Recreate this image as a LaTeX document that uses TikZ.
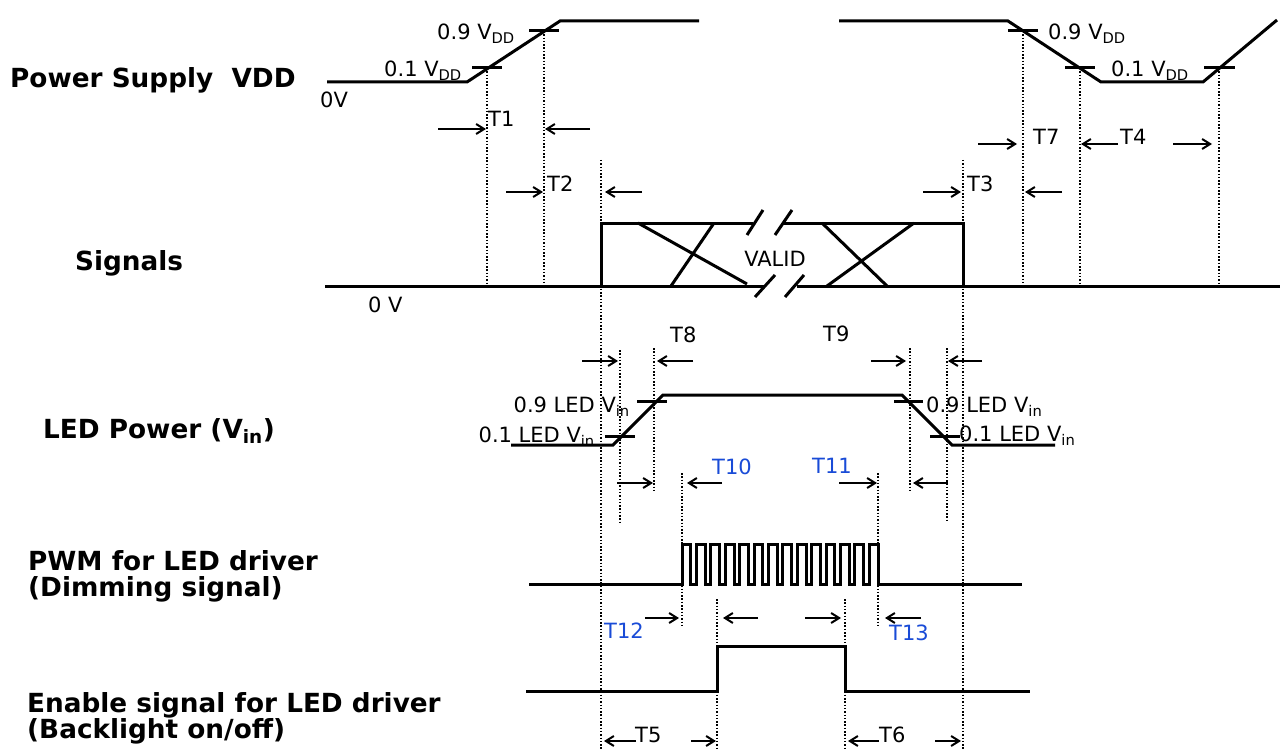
\documentclass[tikz,border=0pt]{standalone}
\usepackage{fontspec}
\setmainfont{DejaVu Sans}
\usetikzlibrary{arrows.meta}

\definecolor{tblue}{RGB}{25,75,215}

\begin{document}
\begin{tikzpicture}[x=1pt, y=-1pt,
    wave/.style={line width=3pt, line join=miter},
    tick/.style={line width=3pt},
    guide/.style={line width=1.5pt, dash pattern=on 1.5pt off 1.8pt},
    tarr/.style={line width=2pt, -{Straight Barb[length=8pt,width=10pt]}},
    sig/.style={font=\fontsize{26.3}{29}\selectfont\bfseries, anchor=base west, inner sep=0pt},
    val/.style={font=\fontsize{21}{24}\selectfont, inner sep=0pt},
    tlbl/.style={val, anchor=base west},
    blbl/.style={tlbl, text=tblue}]

    % --- Define Coordinates and Parameters ---
    \def\xVlo{487}   % VDD passes 0.1 VDD
    \def\xVhi{544}   % VDD passes 0.9 VDD
    \def\xSon{601}   % signals become valid
    \def\xSoff{963}  % signals end
    \def\xVfhi{1023} % VDD falls through 0.9 VDD
    \def\xVflo{1080} % VDD falls through 0.1 VDD
    \def\xVre{1219}  % VDD back on
    \def\xLlo{620}   % LED Vin passes 0.1
    \def\xLhi{654}   % LED Vin passes 0.9
    \def\xLfhi{910}  % LED Vin falls through 0.9
    \def\xLflo{947}  % LED Vin falls through 0.1
    \def\xPon{682}   % PWM starts
    \def\xPoff{878}  % PWM stops
    \def\xEon{717}   % enable on
    \def\xEoff{845}  % enable off
    \def\per{14.4}   % PWM period
    \def\hw{8.8}     % PWM high time
    % levels (measured from the top)
    \def\yVhi{21} \def\yVlo{82}
    \def\ySt{223} \def\ySb{286}
    \def\yLhi{395} \def\yLlo{445}
    \def\yPhi{544} \def\yPlo{584}
    \def\yEhi{646} \def\yElo{691}

    \fill[white] (0,0) rectangle (1280,749);
    \useasboundingbox (0,0) rectangle (1280,749);

    % --- Power Supply VDD ---
    \node[sig] (vdd) at (10,88) {Power Supply\ \ VDD};
    \draw[wave] (327,\yVlo) -- (467,\yVlo) -- (560,\yVhi) -- (699,\yVhi);
    \draw[wave] (839,\yVhi) -- (1008,\yVhi) -- (1101,\yVlo) -- (1203,\yVlo) -- (1277,20);
    % threshold ticks
    \draw[tick] (472,68) -- (502,68);
    \draw[tick] (529,31) -- (559,31);
    \draw[tick] (1008,31) -- (1038,31);
    \draw[tick] (1065,68) -- (1095,68);
    \draw[tick] (1204,68) -- (1235,68);
    \node[val, anchor=base east] (v9a) at (515,40) {0.9 V\textsubscript{DD}};
    \node[val, anchor=base east] (v1a) at (462,77) {0.1 V\textsubscript{DD}};
    \node[tlbl] (zv) at (320,108) {0V};
    \node[tlbl] (v9b) at (1048,40) {0.9 V\textsubscript{DD}};
    \node[tlbl] (v1b) at (1111,77) {0.1 V\textsubscript{DD}};

    % --- Dotted guide lines ---
    \foreach \x/\ya/\yb in {\xVlo/68/286, \xVhi/31/286, \xSon/160/749, \xSoff/160/749,
        \xVfhi/31/286, \xVflo/68/286, \xVre/68/286,
        \xLlo/350/523, \xLhi/348/490, \xLfhi/348/490, \xLflo/348/522,
        \xPon/473/627, \xPoff/473/627, \xEon/599/749, \xEoff/599/749}
        \draw[guide] (\x,\ya) -- (\x,\yb);

    % --- T1, T2, T3, T4, T7 ---
    \draw[tarr] (438,129) -- (\xVlo-1,129);
    \node[tlbl] (t1) at (488,127) {T1};
    \draw[tarr] (590,129) -- (\xVhi+1,129);
    \draw[tarr] (506,192) -- (\xVhi-1,192);
    \node[tlbl] (t2) at (547,191) {T2};
    \draw[tarr] (642,192) -- (\xSon+4,192);
    \draw[tarr] (923,192) -- (\xSoff-2,192);
    \node[tlbl] (t3) at (967,191) {T3};
    \draw[tarr] (1062,192) -- (\xVfhi+2,192);
    \draw[tarr] (978,144) -- (1017,144);
    \node[tlbl] (t7) at (1033,145) {T7};
    \draw[tarr] (1118,144) -- (\xVflo+1,144);
    \node[tlbl] (t4) at (1120,145) {T4};
    \draw[tarr] (1173,144) -- (1212,144);

    % --- Signals ---
    \node[sig] (sg) at (75,270) {Signals};
    \draw[wave] (325,\ySb) -- (765,\ySb);
    \draw[wave] (797,\ySb) -- (1280,\ySb);
    \draw[wave] (\xSon,\ySb) -- (\xSon,\ySt) -- (753,\ySt);
    \draw[wave] (782,\ySt) -- (\xSoff,\ySt) -- (\xSoff,\ySb);
    % crossings
    \draw[wave] (638,\ySt) -- (747,284) (714,\ySt) -- (671,\ySb);
    \draw[wave] (822,\ySt) -- (887,\ySb) (914,\ySt) -- (827,\ySb);
    % break marks
    \draw[wave] (747,235) -- (763,210) (775,235) -- (792,210);
    \draw[wave] (755,297) -- (775,275) (785,297) -- (804,275);
    \node[val] (valid) at (775,259) {VALID};
    \node[tlbl] (zv2) at (368,312) {0 V};

    % --- LED Power ---
    \node[sig] (led) at (43,438) {LED Power (V\textsubscript{in})};
    \draw[wave] (511,\yLlo) -- (613,\yLlo) -- (663,\yLhi) -- (902,\yLhi) -- (952,\yLlo) -- (1055,\yLlo);
    \draw[tick] (605,436) -- (635,436);
    \draw[tick] (637,401) -- (667,401);
    \draw[tick] (894,401) -- (923,401);
    \draw[tick] (930,436) -- (960,436);
    \node[val, anchor=base east] (l9a) at (630,412) {0.9 LED V\textsubscript{in}};
    \node[val, anchor=base east] (l1a) at (595,442) {0.1 LED V\textsubscript{in}};
    \node[tlbl] (l9b) at (926,412) {0.9 LED V\textsubscript{in}};
    \node[tlbl] (l1b) at (959,441) {0.1 LED V\textsubscript{in}};

    % T8, T9
    \node[tlbl] (t8) at (670,342) {T8};
    \draw[tarr] (582,361) -- (\xLlo-2,361);
    \draw[tarr] (693,361) -- (\xLhi+3,361);
    \node[tlbl] (t9) at (823,341) {T9};
    \draw[tarr] (871,361) -- (\xLfhi-4,361);
    \draw[tarr] (982,361) -- (\xLflo+1,361);

    % T10, T11
    \draw[tarr] (617,483) -- (\xLhi-1,483);
    \draw[tarr] (722,483) -- (\xPon+5,483);
    \node[blbl] (t10) at (712,474) {T10};
    \node[blbl] (t11) at (812,473) {T11};
    \draw[tarr] (839,483) -- (\xPoff-1,483);
    \draw[tarr] (948,483) -- (\xLfhi+3,483);

    % --- PWM for LED driver ---
    \node[sig] (pwm) at (28,570) {PWM for LED driver};
    \node[sig] (pwmb) at (28,596) {(Dimming signal)};
    \draw[wave] (529,\yPlo)
        \foreach \i in {0,...,13} {
            -- ({\xPon+\i*\per},\yPlo) -- ({\xPon+\i*\per},\yPhi)
            -- ({\xPon+\i*\per+\hw},\yPhi) -- ({\xPon+\i*\per+\hw},\yPlo)
        } -- (1022,\yPlo);

    % T12, T13
    \draw[tarr] (645,618) -- (\xPon-3,618);
    \node[blbl] (t12) at (604,638) {T12};
    \draw[tarr] (758,618) -- (\xEon+6,618);
    \draw[tarr] (805,618) -- (\xEoff-4,618);
    \draw[tarr] (921,618) -- (\xPoff+7,618);
    \node[blbl] (t13) at (889,640) {T13};

    % --- Enable signal for LED driver ---
    \node[sig] (en) at (27,712) {Enable signal for LED driver};
    \node[sig] (enb) at (27,738) {(Backlight on/off)};
    \draw[wave] (526,\yElo) -- (\xEon,\yElo) -- (\xEon,\yEhi) -- (\xEoff,\yEhi) -- (\xEoff,\yElo) -- (1030,\yElo);

    % T5, T6
    \draw[tarr] (636,741) -- (\xSon+3,741);
    \node[tlbl] (t5) at (635,742) {T5};
    \draw[tarr] (691,741) -- (\xEon-1,741);
    \draw[tarr] (879,741) -- (\xEoff+3,741);
    \node[tlbl] (t6) at (879,742) {T6};
    \draw[tarr] (935,741) -- (\xSoff-2,741);

\end{tikzpicture}
\end{document}
